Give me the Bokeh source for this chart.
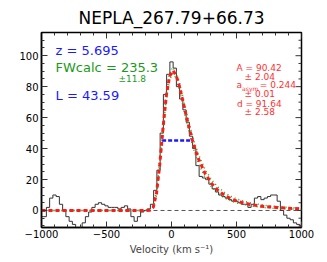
from bokeh.plotting import figure
from bokeh.models import Range1d, Label, FixedTicker
from bokeh.embed import file_html
from bokeh.resources import INLINE

# Observed spectrum (velocity km/s, flux)
vel = [-1000, -975, -950, -925, -900, -875, -850, -825, -800, -775, -750, -725, -700,
       -675, -650, -625, -600, -575, -550, -525, -500, -475, -450, -425, -400, -375,
       -350, -325, -300, -275, -250, -225, -200, -175, -150, -125, -100, -75, -50, -25,
       0, 25, 50, 75, 100, 125, 150, 175, 200, 225, 250, 275, 300, 325, 350, 375, 400,
       425, 450, 475, 500, 525, 550, 575, 600, 625, 650, 675, 700, 725, 750, 775, 800,
       825, 850, 875, 900, 925, 950, 975, 1000]
flux = [-4, -4, 2, 8, 10, 9, 4, 0, -4, -7, -9, -12, -12,
        -8, -4, -1, 2, 4, 5, 4, 3, 2, 2, 2, 1, 2,
        3, 1, -4, -7, -4, -1, 0, 1, 4, 13, 26, 50, 75, 88,
        96, 92, 80, 72, 65, 57, 48, 40, 29, 22, 21, 20, 17, 14, 12, 10, 9,
        8, 7, 6, 6, 5, 4, 4, 2, 4, 8, 9, 7, 8, 9, 10, 10,
        6, 0, -3, -5, -6, -8, -9, -10]

# Fitted asymmetric Gaussian model and its envelope
model_v = [-1000, -200, -165, -140, -115, -90, -65, -40, -15, 10, 35, 60, 85, 110, 135,
           160, 185, 210, 260, 310, 360, 410, 460, 510, 610, 710, 810, 910, 1000]
model = [0, 0, 0.2, 2.2, 11.2, 29.9, 53.6, 74.2, 86.6, 90.4, 87.5, 80.5, 71.6, 62.4, 53.6,
         45.6, 38.7, 32.8, 23.6, 17.3, 12.8, 9.7, 7.5, 5.8, 3.8, 2.6, 1.9, 1.4, 1.1]
model_hi = [0, 0, 0.3, 2.6, 12.5, 32.2, 56.2, 76.6, 88.8, 92.5, 89.6, 82.9, 74.3, 65.2, 56.5,
            48.6, 41.7, 35.7, 26.3, 19.6, 14.9, 11.5, 9.0, 7.2, 4.8, 3.4, 2.5, 1.9, 1.5]
model_lo = [0, 0, 0.1, 1.9, 10.0, 27.7, 51.0, 71.7, 84.5, 88.4, 85.4, 78.1, 69.0, 59.5, 50.6,
            42.6, 35.7, 29.9, 21.0, 15.0, 10.9, 8.0, 6.1, 4.7, 2.9, 1.9, 1.3, 1.0, 0.75]

# FWHM marker
fwhm_v = [-72, 159]
fwhm_y = [45.2, 45.2]
zero_v = [-1000, 1000]
zero_y = [0, 0]

x_major = [-1000, -500, 0, 500, 1000]
x_minor = [-900, -800, -700, -600, -400, -300, -200, -100, 100, 200, 300,
           400, 600, 700, 800, 900]
y_major = [0, 20, 40, 60, 80, 100]
y_minor = [-10, -5, 5, 10, 15, 25, 30, 35, 45, 50, 55, 65, 70, 75, 85,
           90, 95, 105, 110]

X0, X1 = -1000, 1000
Y0, Y1 = -11, 115
FONT = "DejaVu Sans"

W, H = 327, 262
BL, BR, BT, BB = 41, 26, 31, 35

p = figure(width=W, height=H, output_backend="svg", toolbar_location=None,
           x_range=Range1d(X0, X1), y_range=Range1d(Y0, Y1),
           min_border_left=BL, min_border_right=BR, min_border_bottom=BB, min_border_top=BT,
           title="NEPLA_267.79+66.73")
p.title.text_font = FONT
p.title.text_font_size = "17px"
p.title.text_font_style = "normal"
p.title.align = "center"
p.title.text_color = "black"
p.xgrid.visible = False
p.ygrid.visible = False
p.outline_line_color = "black"
p.outline_line_width = 1.5
p.background_fill_color = "white"
p.border_fill_color = "white"

p.xaxis.ticker = FixedTicker(ticks=x_major, minor_ticks=x_minor)
p.yaxis.ticker = FixedTicker(ticks=y_major, minor_ticks=y_minor)

for ax in p.axis:
    ax.major_tick_in = 6
    ax.major_tick_out = 0
    ax.minor_tick_in = 3
    ax.minor_tick_out = 0
    ax.axis_line_color = "black"
    ax.axis_line_width = 1.5
    ax.major_tick_line_color = "#333333"
    ax.minor_tick_line_color = "#333333"
    ax.major_label_text_font = FONT
    ax.major_label_text_font_size = "10px"
    ax.major_label_text_color = "black"

p.xaxis.major_label_standoff = 2
p.yaxis.major_label_standoff = 3

p.xaxis.axis_label = "Velocity (km s\u207b\u00b9)"
p.xaxis.axis_label_text_font = FONT
p.xaxis.axis_label_text_font_size = "10px"
p.xaxis.axis_label_text_font_style = "normal"
p.xaxis.axis_label_standoff = 3

# mirrored ticks on the top and right edges (lengths in pixels converted to data units)
frame_w = W - BL - BR
frame_h = H - BT - BB
ypx = (Y1 - Y0) / frame_h
xpx = (X1 - X0) / frame_w
tick_col = "#333333"
p.segment(x0=x_major, y0=[Y1] * len(x_major), x1=x_major, y1=[Y1 - 6 * ypx] * len(x_major),
          line_color=tick_col, line_width=1)
p.segment(x0=x_minor, y0=[Y1] * len(x_minor), x1=x_minor, y1=[Y1 - 3 * ypx] * len(x_minor),
          line_color=tick_col, line_width=1)
p.segment(x0=[X1] * len(y_major), y0=y_major, x1=[X1 - 6 * xpx] * len(y_major), y1=y_major,
          line_color=tick_col, line_width=1)
p.segment(x0=[X1] * len(y_minor), y0=y_minor, x1=[X1 - 3 * xpx] * len(y_minor), y1=y_minor,
          line_color=tick_col, line_width=1)

# zero line
p.line(zero_v, zero_y, line_color="#555555", line_width=1, line_dash="4 3")
# spectrum
p.step(vel, flux, mode="center", line_color="#333333", line_width=1)
# model envelope
p.line(model_v, model_hi, line_color="#22aa22", line_width=1.5, line_dash="1 3")
p.line(model_v, model_lo, line_color="#22aa22", line_width=1.5, line_dash="1 3")
# model
p.line(model_v, model, line_color="#ff1a1a", line_width=3, line_dash="4 3")
# FWHM
p.line(fwhm_v, fwhm_y, line_color="#1a1aff", line_width=2.5, line_dash="4 2")

def lab(x, y, t, color, size, align="left"):
    p.add_layout(Label(x=x, y=y, text=t, text_color=color, text_font=FONT,
                       text_font_size=size, text_align=align,
                       text_baseline="alphabetic"))

lab(-892, 103.1, "z = 5.695", "#1a1aff", "13px")
lab(-892, 92.2, "FWcalc = 235.3", "#1a9a1a", "13px")
lab(-408, 84.8, "\u00b111.8", "#1a9a1a", "9px")
lab(-892, 74.6, "L = 43.59", "#1a1aff", "13px")

red = "#ff3030"
lab(500, 91.9, "A = 90.42", red, "9px")
lab(562, 86.5, "\u00b1 2.04", red, "9px")
lab(500, 80.8, "a", red, "9px")
lab(543, 79.0, "asym", red, "6px")
lab(679, 80.8, "= 0.244", red, "9px")
lab(562, 75.0, "\u00b1 0.01", red, "9px")
lab(503, 69.0, "d = 91.64", red, "9px")
lab(562, 63.7, "\u00b1 2.58", red, "9px")

open("out.html", "w").write(file_html(p, INLINE))
